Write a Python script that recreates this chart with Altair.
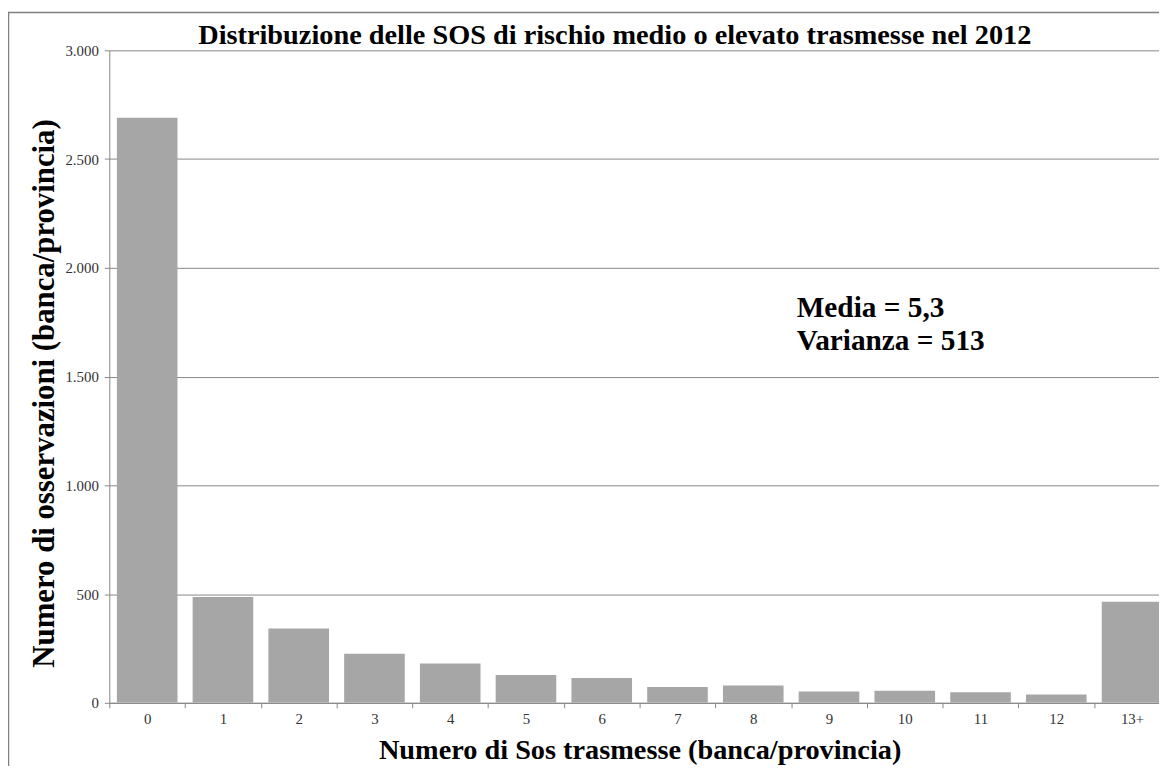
import altair as alt
import pandas as pd

categories = ["0", "1", "2", "3", "4", "5", "6", "7", "8", "9", "10", "11", "12", "13+"]
counts = [2690, 486, 342, 226, 181, 128, 114, 73, 80, 52, 55, 49, 38, 465]
y_ticks = [0, 500, 1000, 1500, 2000, 2500, 3000]
note_text = ["Media = 5,3", "Varianza = 513"]
note_value = [1772, 1621]
note_cat = ["9", "9"]

title_text = "Distribuzione delle SOS di rischio medio o elevato trasmesse nel 2012"
x_title = "Numero di Sos trasmesse (banca/provincia)"
y_title = "Numero di osservazioni (banca/provincia)"

SERIF = "Liberation Serif"
GRAY = "#868686"
W, H = 1057, 657
STEP = 1068 / 14

bars_df = pd.DataFrame({"cat": categories, "count": counts})
notes_df = pd.DataFrame({"cat": note_cat, "count": note_value, "t": note_text})
frame_df = pd.DataFrame({"t": [title_text]})

xscale = alt.Scale(domain=categories, range=[0, 1068], paddingInner=0.2, paddingOuter=0.1)
yscale = alt.Scale(domain=[0, 3000], nice=False)

x_axis = alt.Axis(title=x_title, labelAngle=0, bandPosition=0, tickOffset=-0.1 * STEP,
                  labelOffset=0.1 * STEP, grid=False,
                  domainColor=GRAY, tickColor=GRAY, tickSize=5, labelPadding=4,
                  labelFont=SERIF, labelFontSize=15, labelColor="#333",
                  titleFont=SERIF, titleFontWeight="bold", titleColor="black",
                  titleFontSize=28.5, titleY=47, titleBaseline="middle")
y_axis = alt.Axis(title=y_title, values=y_ticks,
                  labelExpr="replace(format(datum.value, ','), ',', '.')",
                  grid=True, gridColor=GRAY, domainColor=GRAY, tickColor=GRAY,
                  tickSize=5, labelPadding=6,
                  labelFont=SERIF, labelFontSize=15, labelColor="#333",
                  titleFont=SERIF, titleFontWeight="bold", titleColor="black",
                  titleFontSize=31,
                  titleX=-65, titleY=345, titleAngle=-90,
                  titleAlign="center", titleBaseline="middle")

bars = alt.Chart(bars_df).mark_bar(color="#A6A6A6", clip=True).encode(
    x=alt.X("cat:N", sort=categories, scale=xscale, axis=x_axis),
    y=alt.Y("count:Q", scale=yscale, axis=y_axis),
)

notes = alt.Chart(notes_df).mark_text(
    align="left", baseline="alphabetic", font=SERIF, fontSize=29.5,
    fontWeight="bold", color="black", dx=-2
).encode(
    x=alt.X("cat:N", bandPosition=0, scale=xscale, axis=x_axis),
    y=alt.Y("count:Q", scale=yscale, axis=y_axis),
    text="t:N",
)

frame = alt.Chart(frame_df).mark_rect(
    fillOpacity=0, stroke="#808080", strokeWidth=1.5, clip=False
).encode(
    x=alt.value(-101.5), y=alt.value(-38), x2=alt.value(1300), y2=alt.value(900)
)

title = alt.Chart(frame_df).mark_text(
    font=SERIF, fontSize=28.5, fontWeight="bold", color="black",
    align="center", baseline="alphabetic"
).encode(x=alt.value(509), y=alt.value(-6), text="t:N")

chart = alt.layer(bars, notes, frame, title).properties(
    width=W, height=H,
    autosize=alt.AutoSizeParams(type="none"),
    padding={"left": 102, "top": 40, "right": 0, "bottom": 61},
).configure(background="white").configure_view(stroke=None).configure_axis(
    labelFont=SERIF, labelFontSize=15, labelColor="#333",
    titleFont=SERIF, titleFontWeight="bold", titleColor="black",
)

chart.save("out.html", embed_options={"renderer": "svg", "actions": False})
